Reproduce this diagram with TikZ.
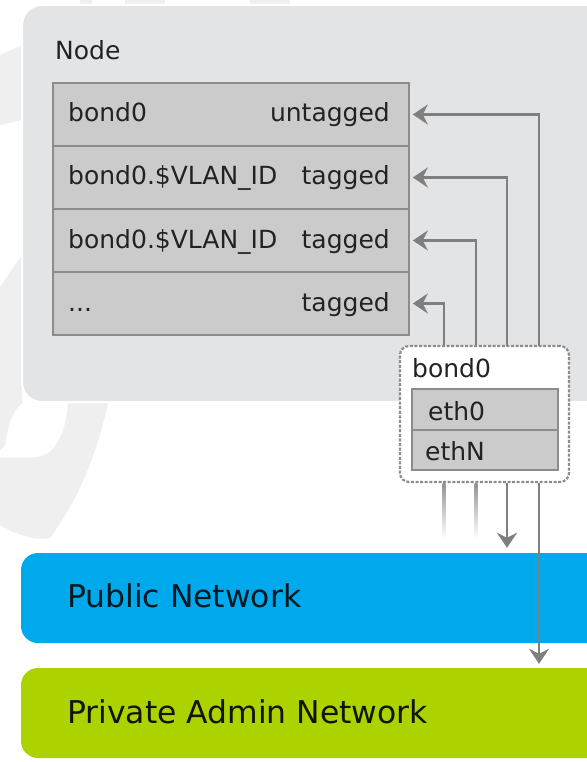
\documentclass[tikz,border=0pt]{standalone}
\usepackage{fontspec}
\setmainfont{DejaVu Sans}
\usetikzlibrary{arrows.meta}
\definecolor{nodebg}{HTML}{E3E4E6}
\definecolor{rowbg}{HTML}{CBCBCB}
\definecolor{rowline}{HTML}{8C8C8C}
\definecolor{conn}{HTML}{7F7F7F}
\definecolor{txt}{HTML}{222222}
\definecolor{pub}{HTML}{00A9EC}
\definecolor{priv}{HTML}{ACD300}
\definecolor{wmark}{HTML}{EFEFEF}
\tikzset{
  lab/.style={font=\fontsize{25}{28}\selectfont,text=txt,inner sep=0pt},
  netlab/.style={font=\fontsize{31.4}{34}\selectfont,inner sep=0pt,anchor=base west},
  rowbox/.style={draw=rowline,line width=1.6pt,fill=rowbg,minimum width=356pt,minimum height=63pt,inner sep=0pt},
  ethbox/.style={draw=rowline,line width=1.6pt,fill=rowbg,minimum width=146pt,minimum height=40.5pt,inner sep=0pt},
  netbox/.style={rounded corners=17pt,minimum height=90pt,inner sep=0pt},
  arr/.style={draw=conn,line width=2.8pt,-{Stealth[length=15pt,width=20pt,inset=5pt]}},
}
\begin{document}
\begin{tikzpicture}[x=1pt,y=-1pt]
\useasboundingbox (0,0) rectangle (586,762);
\fill[white] (0,0) rectangle (586,762);
% faint watermark
\fill[wmark] (0,55) -- (22,45) -- (22,120) -- (0,125) -- cycle;
\fill[wmark] (22,255) -- (22,403) -- (108,403) .. controls (100,440) and (85,490) .. (50,538) .. controls (30,541) and (12,532) .. (0,525) -- (0,458) .. controls (20,456) and (40,462) .. (52,450) .. controls (62,438) and (66,425) .. (68,403) -- (22,403) .. controls (12,412) and (8,425) .. (5,445) -- (0,450) -- (0,287) -- cycle;
\fill[wmark] (80,0) rectangle (92,4);
\fill[wmark] (125,0) rectangle (165,4);
\fill[wmark] (250,0) rectangle (290,4);
% node container
\node[draw=white,line width=2pt,fill=nodebg,rounded corners=20pt,minimum width=590pt,minimum height=397pt,inner sep=0pt] (nodebox) at (317,203.5) {};
\node[lab,anchor=base west] (nodelab) at (55,60) {Node};
% rows
\node[rowbox] (row1) at (231,114.5) {};
\node[rowbox] (row2) at (231,177.5) {};
\node[rowbox] (row3) at (231,240.5) {};
\node[rowbox] (row4) at (231,303.5) {};
\node[lab,anchor=base west] (r1a) at (68,122) {bond0};
\node[lab,anchor=base east] (r1b) at (390,122) {untagged};
\node[lab,anchor=base west] (r2a) at (68,185) {bond0.\$VLAN\_ID};
\node[lab,anchor=base east] (r2b) at (390,185) {tagged};
\node[lab,anchor=base west] (r3a) at (68,248) {bond0.\$VLAN\_ID};
\node[lab,anchor=base east] (r3b) at (390,248) {tagged};
\node[lab,anchor=base west] (r4a) at (68,311) {...};
\node[lab,anchor=base east] (r4b) at (390,311) {tagged};
% networks
\node[netbox,fill=pub,minimum width=590pt] (public) at (316,598) {};
\node[netbox,fill=priv,minimum width=590pt] (private) at (316,713) {};
\node[netlab,text=pub!15!black] (publab) at (67,607) {Public Network};
\node[netlab,text=priv!10!black] (privlab) at (67,723) {Private Admin Network};
% bond box
\coordinate (a) at (444,346);
\coordinate (b) at (476,346);
\coordinate (c) at (507,346);
\coordinate (d) at (539,346);
\draw[arr] (a) |- ([xshift=3pt]row4.east);
\draw[arr] (b) |- ([xshift=3pt]row3.east);
\draw[arr] (c) |- ([xshift=3pt]row2.east);
\draw[arr] (d) |- ([xshift=3pt]row1.east);
\node[draw=rowline,dash pattern=on 3pt off 1.6pt,line width=2.2pt,fill=white,rounded corners=9pt,minimum width=169pt,minimum height=136pt,inner sep=0pt] (bond) at (484.5,414) {};
\node[lab,anchor=base west] (bondlab) at (412,377) {bond0};
\node[ethbox] (eth0) at (485,409.5) {};
\node[ethbox] (ethN) at (485,450) {};
\node[lab,anchor=base west] (eth0lab) at (428,420) {eth0};
\node[lab,anchor=base west] (ethNlab) at (425,460) {ethN};
% below bond
\coordinate (a2) at (444,483);
\coordinate (b2) at (476,483);
\shade[top color=conn!85!white,bottom color=white] ([xshift=-1.4pt]a2) rectangle ([xshift=1.4pt,yshift=-55pt]a2);
\shade[top color=conn!85!white,bottom color=white] ([xshift=-1.4pt]b2) rectangle ([xshift=1.4pt,yshift=-55pt]b2);
\draw[arr] (c |- bond.south) -- ([yshift=5pt]c |- public.north);
\draw[arr] (d |- bond.south) -- ([yshift=4pt]d |- private.north);
\end{tikzpicture}
\end{document}
